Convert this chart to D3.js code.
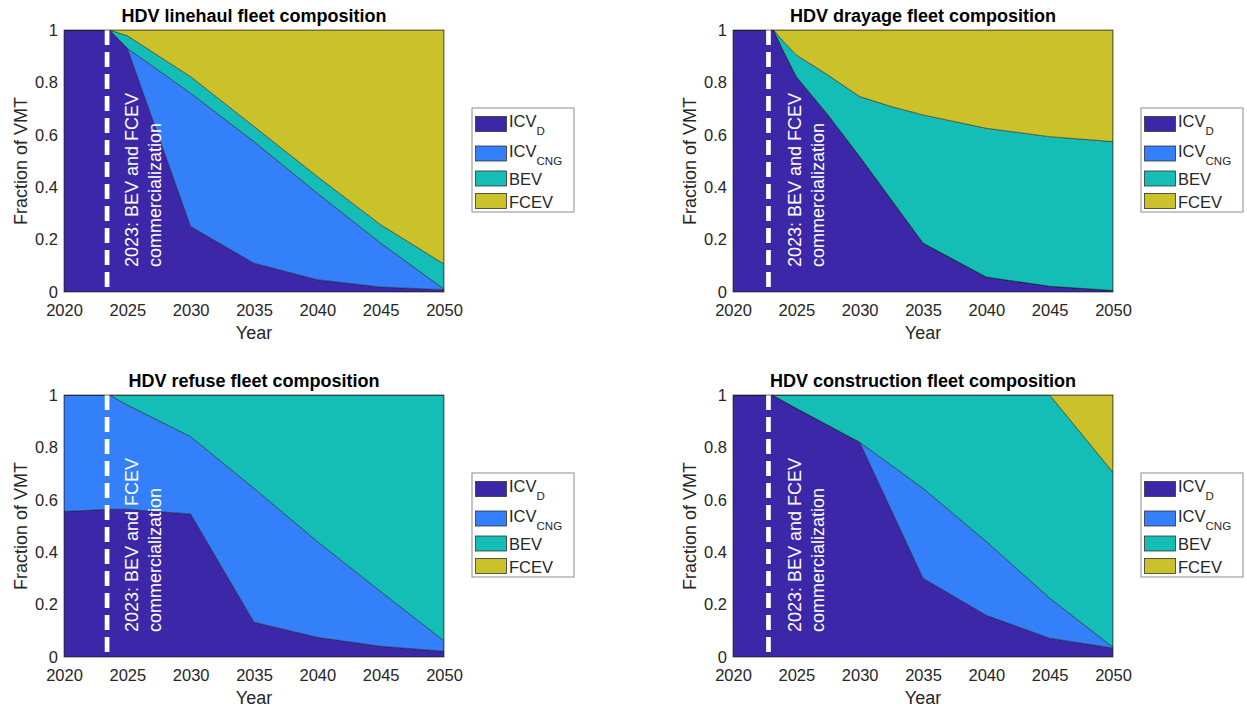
<!DOCTYPE html>
<html>
<head>
<meta charset="utf-8">
<script src="https://cdn.jsdelivr.net/npm/d3@7"></script>
<style>
  html, body { margin: 0; padding: 0; background: #fff; }
  svg { display: block; font-family: "Liberation Sans", Arial, sans-serif; }
</style>
</head>
<body>
<svg id="chart" width="1247" height="710"></svg>
<script>
// ---------------- data ----------------
const seriesKeys = ["ICVD", "CNG", "BEV", "FCEV"];
const seriesColors = ["#3c27a8", "#3380fa", "#14bdb6", "#cbc12a"];
const legendMain = ["ICV", "ICV", "BEV", "FCEV"];
const legendSub = ["D", "CNG", "", ""];

const xTicks = [2020, 2025, 2030, 2035, 2040, 2045, 2050];
const yTicks = [0, 0.2, 0.4, 0.6, 0.8, 1];
const yTickLabels = ["0", "0.2", "0.4", "0.6", "0.8", "1"];

const titles = [
  "HDV linehaul fleet composition",
  "HDV drayage fleet composition",
  "HDV refuse fleet composition",
  "HDV construction fleet composition"
];

// linehaul
const linehaulYears = [2020, 2023.6, 2025, 2030, 2035, 2040, 2045, 2050];
const linehaulICVD  = [1, 1, 0.93, 0.25, 0.11, 0.047, 0.019, 0.009];
const linehaulCNG   = [0, 0, 0, 0.509, 0.464, 0.33, 0.168, 0.002];
const linehaulBEV   = [0, 0, 0.048, 0.063, 0.058, 0.064, 0.07, 0.096];
const linehaulFCEV  = [0, 0, 0.022, 0.178, 0.368, 0.559, 0.743, 0.893];

// drayage
const drayageYears = [2020, 2023.2, 2024, 2025, 2027.5, 2030, 2032.5, 2035, 2040, 2045, 2050];
const drayageICVD  = [1, 1, 0.917, 0.822, 0.676, 0.517, 0.352, 0.187, 0.057, 0.022, 0.006];
const drayageCNG   = [0, 0, 0, 0, 0, 0, 0, 0, 0, 0, 0];
const drayageBEV   = [0, 0, 0.038, 0.083, 0.152, 0.229, 0.356, 0.489, 0.568, 0.571, 0.568];
const drayageFCEV  = [0, 0, 0.045, 0.095, 0.172, 0.254, 0.292, 0.324, 0.375, 0.407, 0.426];

// refuse
const refuseYears = [2020, 2023.6, 2025, 2030, 2035, 2040, 2045, 2050];
const refuseICVD  = [0.555, 0.564, 0.564, 0.546, 0.133, 0.075, 0.041, 0.022];
const refuseCNG   = [0.445, 0.436, 0.398, 0.295, 0.511, 0.366, 0.209, 0.040];
const refuseBEV   = [0, 0, 0.038, 0.159, 0.356, 0.559, 0.75, 0.938];
const refuseFCEV  = [0, 0, 0, 0, 0, 0, 0, 0];

// construction
const constructionYears = [2020, 2023.1, 2025, 2030, 2035, 2040, 2045, 2050];
const constructionICVD  = [1, 1, 0.949, 0.82, 0.301, 0.159, 0.072, 0.034];
const constructionCNG   = [0, 0, 0, 0, 0.343, 0.282, 0.153, 0.003];
const constructionBEV   = [0, 0, 0.051, 0.18, 0.356, 0.559, 0.775, 0.668];
const constructionFCEV  = [0, 0, 0, 0, 0, 0, 0, 0.295];

// commercialization marker (year) and annotation
const markerYears = [2023.4, 2022.8, 2023.4, 2022.8];
const annotationYears = [2026.3, 2025.8, 2026.3, 2025.8];
const annotationLines = ["2023: BEV and FCEV", "commercialization"];

// ---------------- layout ----------------
const plotW = 380, plotH = 262;
const plotOrigins = [[64, 30], [733, 30], [64, 395], [733, 395]];

const panelData = [
  [linehaulYears, linehaulICVD, linehaulCNG, linehaulBEV, linehaulFCEV],
  [drayageYears, drayageICVD, drayageCNG, drayageBEV, drayageFCEV],
  [refuseYears, refuseICVD, refuseCNG, refuseBEV, refuseFCEV],
  [constructionYears, constructionICVD, constructionCNG, constructionBEV, constructionFCEV]
];

const svg = d3.select("#chart");
const axisColor = "#262626";

panelData.forEach((pd, pi) => {
  const [ox, oy] = plotOrigins[pi];
  const g = svg.append("g").attr("transform", `translate(${ox},${oy})`);
  const x = d3.scaleLinear().domain([2020, 2050]).range([0, plotW]);
  const y = d3.scaleLinear().domain([0, 1]).range([plotH, 0]);

  const rows = pd[0].map((yr, i) => ({
    year: yr, ICVD: pd[1][i], CNG: pd[2][i], BEV: pd[3][i], FCEV: pd[4][i]
  }));
  const stacked = d3.stack().keys(seriesKeys)(rows);

  const clipId = "clip" + pi;
  g.append("clipPath").attr("id", clipId)
    .append("rect").attr("width", plotW).attr("height", plotH);

  const area = d3.area()
    .x(d => x(d.data.year))
    .y0(d => y(d[0]))
    .y1(d => y(d[1]));

  const ag = g.append("g").attr("clip-path", `url(#${clipId})`);
  stacked.forEach((s, si) => {
    ag.append("path")
      .datum(s)
      .attr("d", area)
      .attr("fill", seriesColors[si])
      .attr("stroke", "#1a1a1a")
      .attr("stroke-width", 0.6)
      .attr("stroke-opacity", 0.8)
      .attr("stroke-linejoin", "round");
  });

  // dashed commercialization marker
  g.append("line")
    .attr("x1", x(markerYears[pi])).attr("x2", x(markerYears[pi]))
    .attr("y1", 0).attr("y2", plotH)
    .attr("stroke", "#fff").attr("stroke-width", 4.7)
    .attr("stroke-dasharray", "15,7");

  // annotation
  const ax = x(annotationYears[pi]);
  const ann = g.append("text")
    .attr("transform", `translate(${ax},${plotH - 25}) rotate(-90)`)
    .attr("fill", "#fff")
    .attr("font-size", 18);
  annotationLines.forEach((t, li) => {
    ann.append("tspan").attr("x", 0).attr("y", (li - 0.5) * 23 + 6).text(t);
  });

  // box
  g.append("rect").attr("width", plotW).attr("height", plotH)
    .attr("fill", "none").attr("stroke", axisColor).attr("stroke-width", 0.8)
    .attr("stroke-opacity", 0.8);

  // axes
  const xAxis = d3.axisBottom(x).tickValues(xTicks).tickFormat(d3.format("d")).tickSize(0).tickPadding(12.5);
  const xg = g.append("g").attr("transform", `translate(0,${plotH})`).call(xAxis);
  xg.select(".domain").remove();
  xg.selectAll("text").attr("font-size", 16.5).attr("fill", axisColor)
    .attr("font-family", "Liberation Sans, Arial, sans-serif");

  const yAxis = d3.axisLeft(y).tickValues(yTicks).tickFormat((d, i) => yTickLabels[i]).tickSize(0).tickPadding(6);
  const yg = g.append("g").call(yAxis);
  yg.select(".domain").remove();
  yg.selectAll("text").attr("font-size", 16.5).attr("fill", axisColor)
    .attr("font-family", "Liberation Sans, Arial, sans-serif");

  // labels
  g.append("text").attr("x", plotW / 2).attr("y", plotH + 47)
    .attr("text-anchor", "middle").attr("font-size", 18).attr("fill", axisColor)
    .text("Year");
  g.append("text")
    .attr("transform", `translate(-37,${plotH / 2}) rotate(-90)`)
    .attr("text-anchor", "middle").attr("font-size", 18).attr("fill", axisColor)
    .text("Fraction of VMT");
  g.append("text").attr("x", plotW / 2).attr("y", -8)
    .attr("text-anchor", "middle").attr("font-size", 18).attr("font-weight", "bold")
    .attr("fill", "#000")
    .text(titles[pi]);

  // legend
  const lg = g.append("g").attr("transform", `translate(${plotW + 28},78)`);
  lg.append("rect").attr("width", 102).attr("height", 104)
    .attr("fill", "#fff").attr("stroke", "#8c8c8c").attr("stroke-width", 1);
  const rowCenters = [16, 45.5, 70.5, 93];
  seriesKeys.forEach((k, si) => {
    const cy = rowCenters[si];
    lg.append("rect").attr("x", 3.5).attr("y", cy - 7.5).attr("width", 31).attr("height", 15)
      .attr("fill", seriesColors[si]).attr("stroke", "#333").attr("stroke-width", 0.8);
    const hasSub = legendSub[si] !== "";
    const t = lg.append("text").attr("x", 37).attr("y", cy + (hasSub ? 3 : 6.5))
      .attr("font-size", 16.5).attr("fill", axisColor);
    t.append("tspan").text(legendMain[si]);
    if (hasSub) {
      t.append("tspan").attr("font-size", 11.5).attr("dy", 8).text(legendSub[si]);
    }
  });
});
</script>
</body>
</html>
